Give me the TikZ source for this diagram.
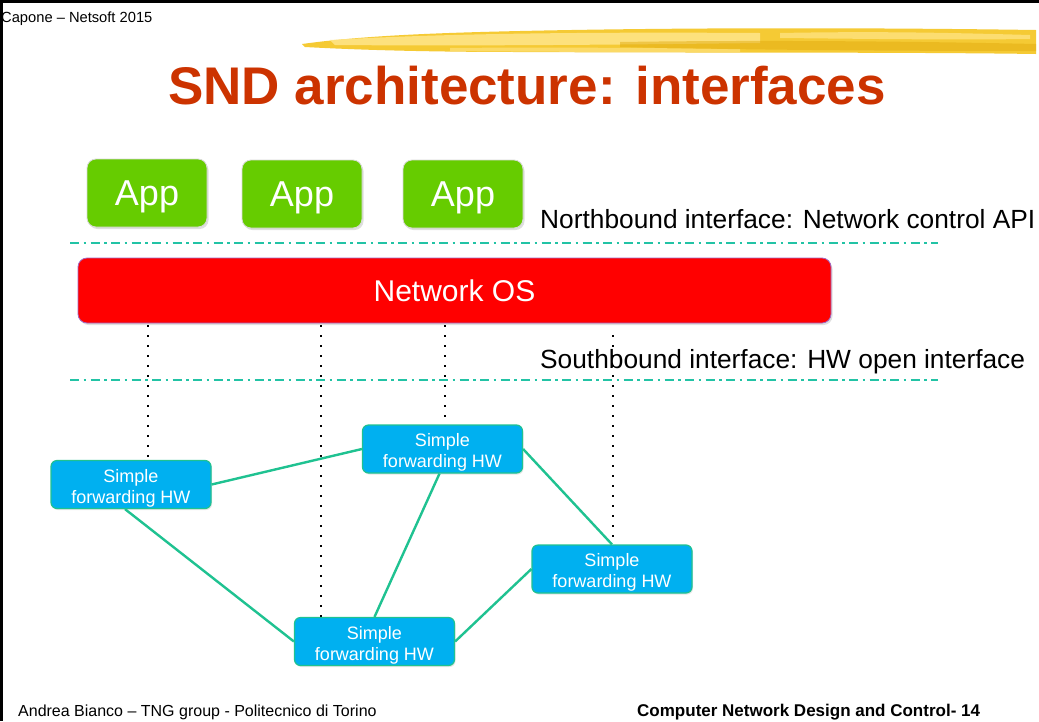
\documentclass[tikz,border=0pt]{standalone}
\usepackage{fontspec}
\setmainfont{Liberation Sans}
\usetikzlibrary{shadows}
\definecolor{titlered}{HTML}{CC3300}
\definecolor{appgreen}{HTML}{66CC00}
\definecolor{swblue}{HTML}{00B0F0}
\definecolor{linkgreen}{HTML}{1FC291}
\definecolor{ifteal}{HTML}{22C3A5}
\definecolor{brushA}{HTML}{F5C82A}
\definecolor{brushB}{HTML}{FFE68A}
\definecolor{brushC}{HTML}{E2AC10}
\newcommand{\swtop}{\rule{0pt}{20pt}}
\tikzset{
  appbox/.style={draw=gray!30, line width=0.8pt, fill=appgreen, rounded corners=9pt,
    minimum width=120pt, minimum height=68pt, text=white, inner sep=0pt, text depth=0pt,
    font=\fontsize{36}{40}\selectfont,
    drop shadow={opacity=0.25, shadow xshift=1.5pt, shadow yshift=-2pt}},
  osbox/.style={draw=blue!60!red!60, line width=0.8pt, fill=red, rounded corners=9pt,
    minimum width=753pt, minimum height=65pt, text=white, inner sep=0pt, text depth=0pt,
    font=\fontsize{30}{34}\selectfont,
    drop shadow={opacity=0.25, shadow xshift=1.5pt, shadow yshift=-2pt}},
  swbox/.style={draw=linkgreen, line width=1.2pt, fill=swblue, rounded corners=6pt,
    minimum width=160pt, minimum height=48pt, text=white, inner sep=0pt, align=center,
    font=\fontsize{18}{21}\selectfont,
    drop shadow={opacity=0.2, shadow xshift=1pt, shadow yshift=-1.5pt}},
  link/.style={draw=linkgreen, line width=2.4pt},
  ifline/.style={draw=ifteal, line width=2.6pt, dash pattern=on 9pt off 4.5pt on 2.5pt off 4.5pt},
  dotline/.style={draw=black, line width=2.4pt, dash pattern=on 2.4pt off 7.6pt},
  iflabel/.style={anchor=base west, inner sep=0pt, font=\fontsize{26.3}{30}\selectfont},
}
\begin{document}
\begin{tikzpicture}[x=1pt,y=-1pt]
\useasboundingbox (0,0) rectangle (1039,721);
\fill[white] (0,0) rectangle (1039,721);
% frame
\draw[line width=3.5pt] (0,1.5) -- (1039,1.5);
\draw[line width=3pt] (1.5,0) -- (1.5,721);
% brush stroke
\fill[brushA, opacity=0.95] (302,44) .. controls (360,36) and (430,33) .. (520,31)
  .. controls (700,27) and (900,28) .. (1036,30)
  -- (1036,54) .. controls (900,52) and (700,53) .. (520,52)
  .. controls (430,52) and (360,50) .. (305,47) -- cycle;
\fill[brushB, opacity=0.85] (330,40) .. controls (450,33) and (600,32) .. (760,33)
  -- (760,43) .. controls (600,45) and (450,46) .. (335,45) -- cycle;
\fill[brushB, opacity=0.6] (450,48) .. controls (550,47) and (650,48) .. (740,49)
  -- (740,52) .. controls (650,52) and (550,52) .. (450,51) -- cycle;
\fill[brushC, opacity=0.5] (620,42) .. controls (750,40) and (900,41) .. (1036,44)
  -- (1036,51) .. controls (900,51) and (750,50) .. (620,47) -- cycle;
\fill[brushB, opacity=0.7] (780,33) .. controls (880,31) and (960,33) .. (1030,35)
  -- (1030,39) .. controls (950,40) and (880,39) .. (780,38) -- cycle;
% header text
\node[anchor=base west, inner sep=0pt, font=\fontsize{14.7}{16}\selectfont] (hdr) at (1,22) {Capone – Netsoft 2015};
\node[anchor=base, inner sep=0pt, text=titlered, font=\fontsize{53}{60}\bfseries\selectfont] (title) at (527,104) {SND architecture: interfaces};
% apps
\node[appbox] (app1) at (147,193) {App};
\node[appbox] (app2) at (302,194) {App};
\node[appbox] (app3) at (463,194) {App};
% northbound
\node[iflabel] (nb) at (540,228) {Northbound interface: Network control API};
\coordinate (nbL) at (70,243);
\coordinate (nbR) at (938,243);
\draw[ifline] (nbL) -- (nbR);
% network OS
\node[osbox] (os) at (454.5,290.5) {Network OS};
% southbound
\node[iflabel] (sb) at (540,368) {Southbound interface: HW open interface};
\coordinate (sbL) at (70,380);
\coordinate (sbR) at (938,380);
% switches
\node[swbox] (s1) at (131,484.5) {\swtop Simple\\forwarding HW};
\node[swbox] (s2) at (442.5,449) {\swtop Simple\\forwarding HW};
\node[swbox] (s3) at (612,569) {\swtop Simple\\forwarding HW};
\node[swbox] (s4) at (374.5,641.5) {\swtop Simple\\forwarding HW};
% dotted control lines
\coordinate (d1) at (148,325);
\coordinate (d2) at (321,325);
\coordinate (d3) at (445,325);
\coordinate (d4) at (613,335);
\draw[dotline] (d1) -- (d1 |- s1.north);
\draw[dotline] (d2) -- (d2 |- s4.north);
\draw[dotline] (d3) -- (d3 |- s2.north);
\draw[dotline] (d4) -- (d4 |- s3.north);
\draw[ifline] (sbL) -- (sbR);
% links
\draw[link] (s1.east) -- (s2.west);
\draw[link] ([xshift=-6pt]s1.south) -- (s4.west);
\draw[link] ([xshift=-3pt]s2.south) -- (s4.north);
\draw[link] (s2.east) -- (s3.north);
\draw[link] (s3.west) -- (s4.east);
% footer
\node[anchor=base west, inner sep=0pt, font=\fontsize{16}{18}\selectfont] (fl) at (18,716) {Andrea Bianco – TNG group - Politecnico di Torino};
\node[anchor=base west, inner sep=0pt, font=\fontsize{17}{19}\bfseries\selectfont] (fr) at (637,716) {Computer Network Design and Control- 14};
\end{tikzpicture}
\end{document}
